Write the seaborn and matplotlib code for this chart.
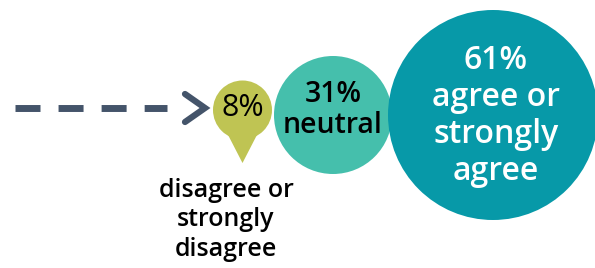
import numpy as np
import pandas as pd
import matplotlib
matplotlib.use("Agg")
import matplotlib.pyplot as plt
from matplotlib.patches import Polygon
import seaborn as sns

# Dados do gráfico
categorias = ["disagree or\nstrongly\ndisagree", "neutral", "agree or\nstrongly\nagree"]
percentuais = [8, 31, 61]
rotulos = ["8%", "31%\nneutral", "61%\nagree or\nstrongly\nagree"]

# Estilo
cores = ["#BFC453", "#45BFAC", "#0799A8"]
raios_px = [29.5, 59, 105]      # raio de cada bolha em pixels
folgas_px = [2, -4]             # espaço entre bolhas vizinhas
cor_seta = "#44546A"

sns.set_style("white")
plt.rcParams["font.family"] = ["Open Sans", "DejaVu Sans"]
plt.rcParams["lines.scale_dashes"] = False

W, H = 595, 268
fig = plt.figure(figsize=(W / 100, H / 100), dpi=100)
ax = fig.add_axes([0, 0, 1, 1])

# Centros das bolhas encadeados, cada uma encostando na anterior
xs = [242.5]
for i in range(1, len(raios_px)):
    xs.append(xs[-1] + raios_px[i - 1] + raios_px[i] + folgas_px[i - 1])
ys = [110, 115, 115]

df = pd.DataFrame({
    "categoria": categorias,
    "valor": percentuais,
    "x": xs,
    "y": ys,
})
tamanhos = {c: (2 * r * 0.72) ** 2 for c, r in zip(categorias, raios_px)}

# Ponta do marcador (pin) da bolha pequena
ax.add_patch(Polygon([(xs[0] - 17, ys[0] + 20), (xs[0] + 17, ys[0] + 20), (xs[0], 163)],
                     closed=True, color=cores[0], lw=0, zorder=1))

sns.scatterplot(data=df, x="x", y="y", hue="categoria", palette=dict(zip(categorias, cores)),
                size="categoria", sizes=tamanhos, linewidth=0, alpha=1,
                legend=False, ax=ax, zorder=2)
ax.set_xlim(0, W)
ax.set_ylim(H, 0)
ax.axis("off")

# Seta tracejada
linha, = ax.plot([15, 167], [108, 108], color=cor_seta, lw=5, solid_capstyle="butt")
linha.set_dashes([18, 13])
ax.plot([185, 205, 185], [94, 108, 122], color=cor_seta, lw=4.5,
        solid_capstyle="round", solid_joinstyle="miter")

# Textos nas bolhas
ax.text(xs[0], 108, rotulos[0], ha="center", va="center", fontsize=22,
        color="black", zorder=3)
ax.text(xs[1], 110, rotulos[1], ha="center", va="center", fontsize=20.5,
        fontweight="semibold", color="black", linespacing=1.1, zorder=3)
ax.text(xs[2] + 3, 116, rotulos[2], ha="center", va="center", fontsize=23,
        fontweight="semibold", color="white", linespacing=1.16, zorder=3)

# Rótulo abaixo do pin
ax.text(226, 220, categorias[0], ha="center", va="center", fontsize=18,
        fontweight="semibold", color="black", linespacing=1.22)

# Título cortado no topo
ax.text(20, 0.4, "assessments", ha="left", va="baseline", fontsize=20,
        fontweight="semibold", color="#5BC8D2")

fig.savefig("out.png", dpi=100)
